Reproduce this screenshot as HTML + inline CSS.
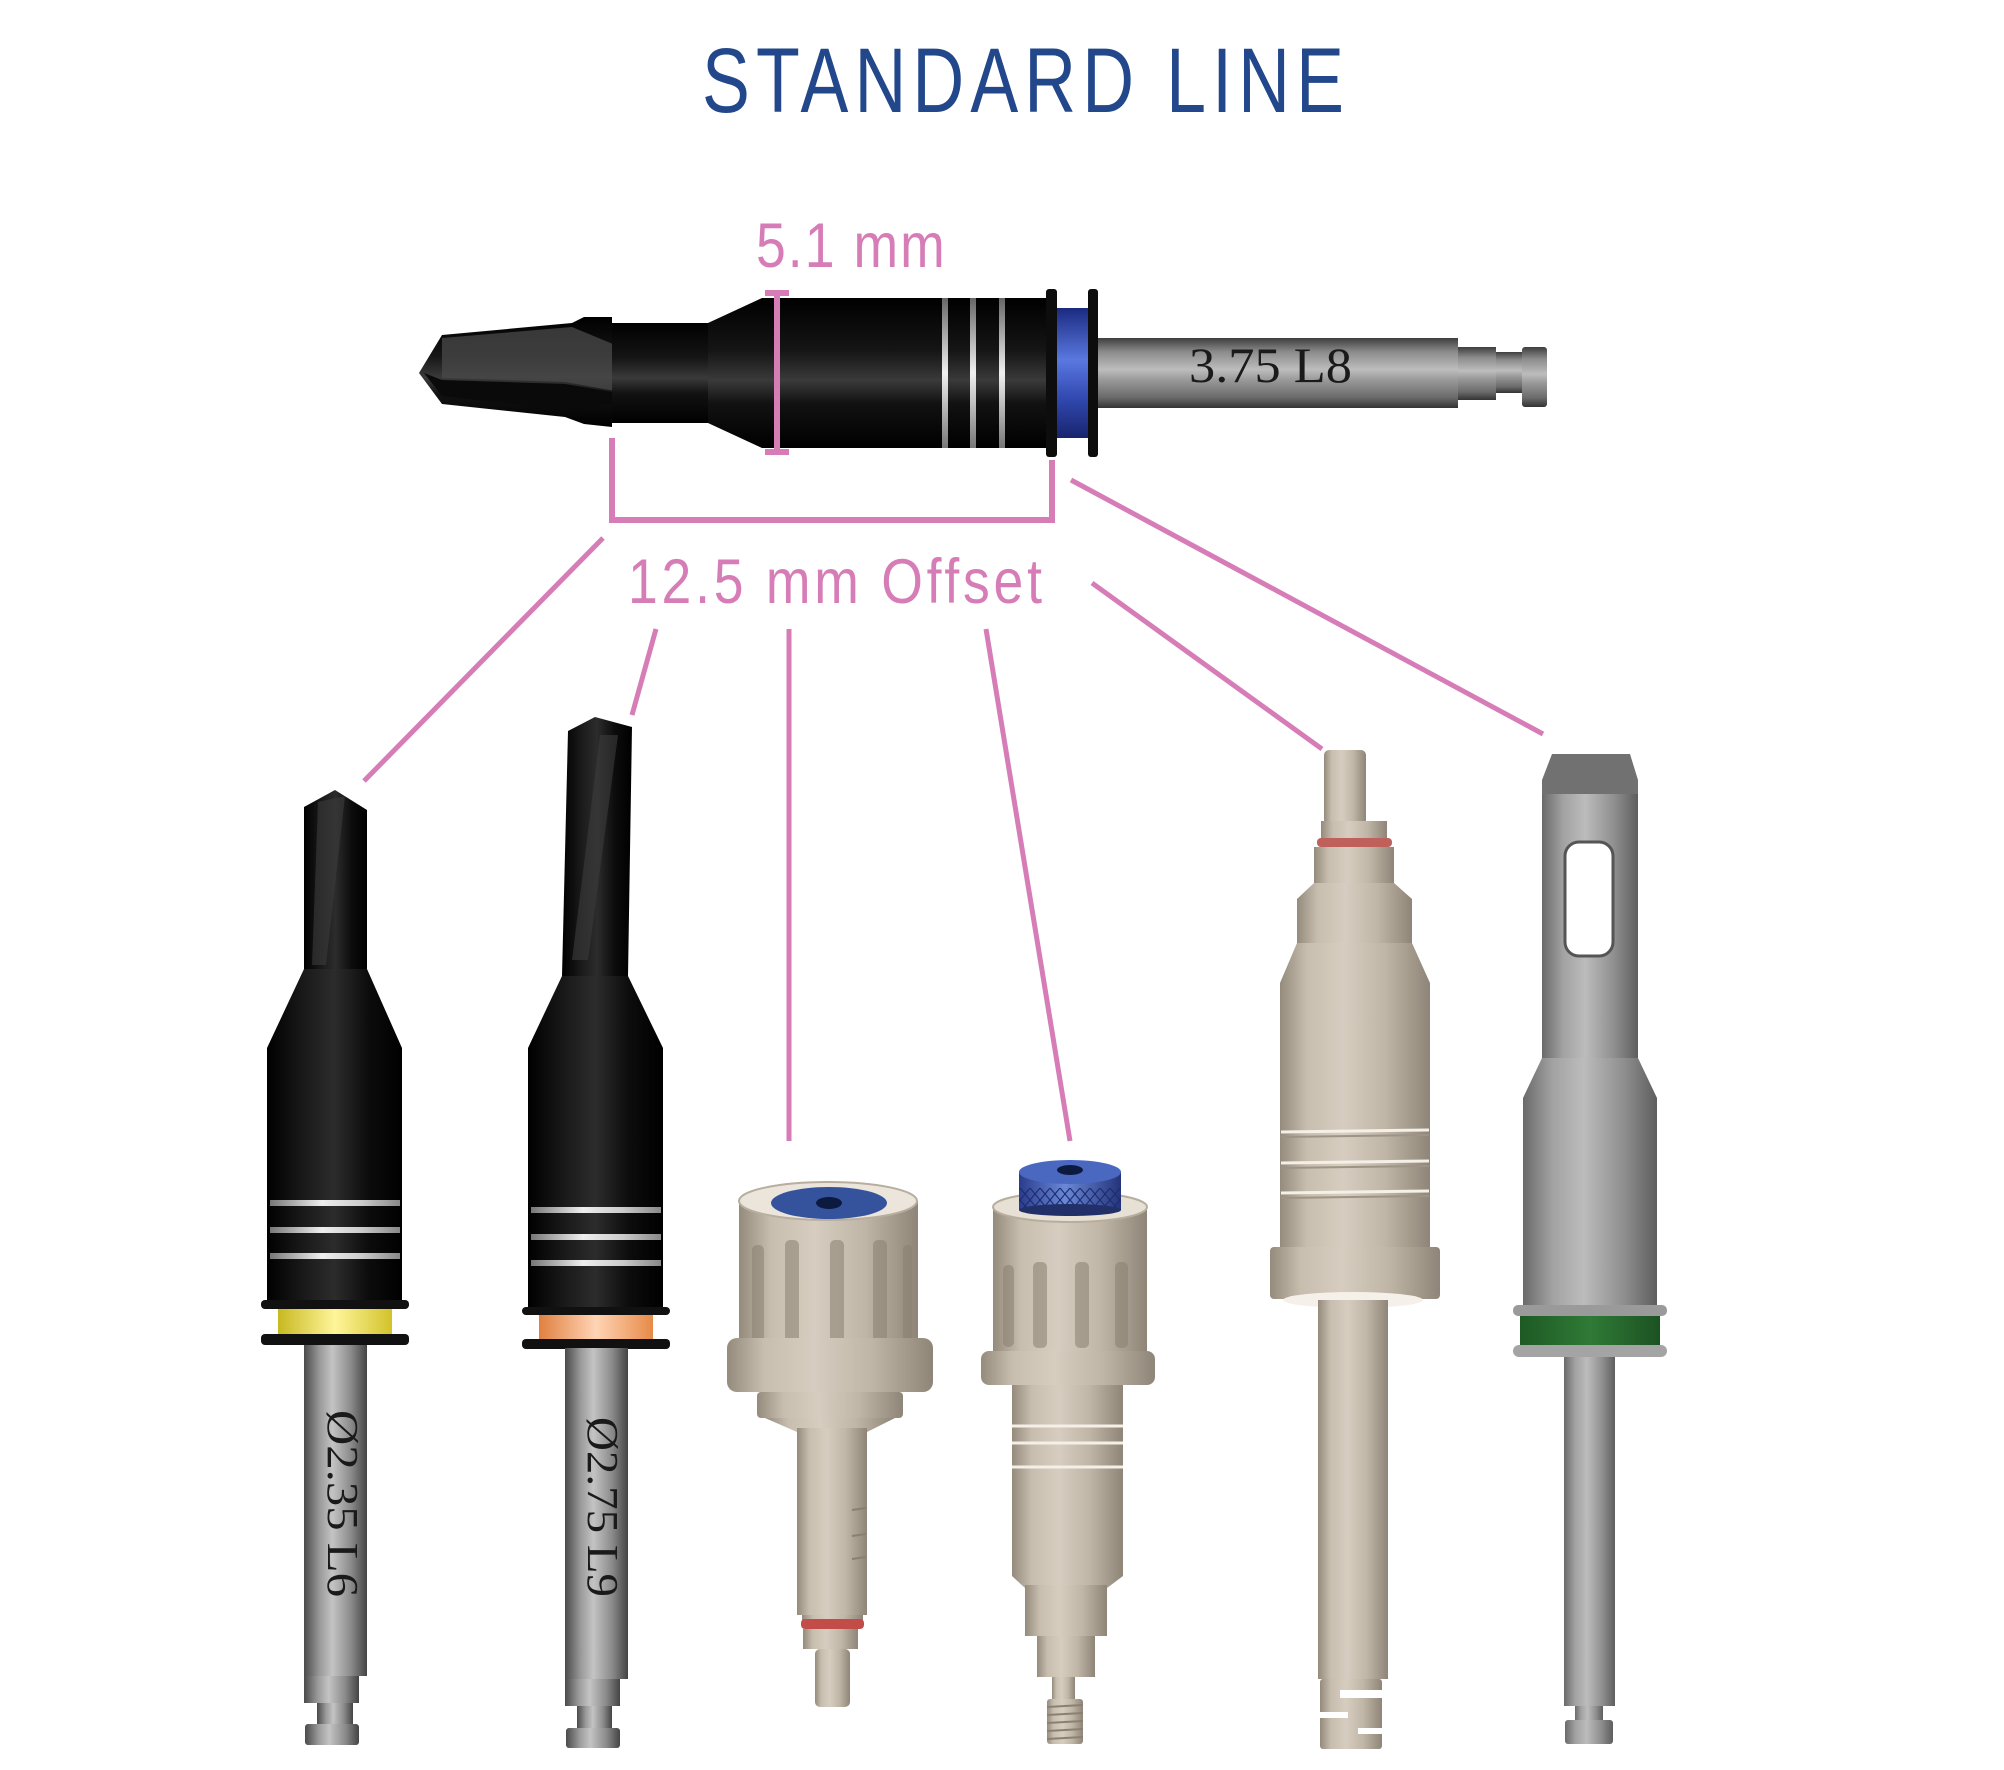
<!DOCTYPE html>
<html><head><meta charset="utf-8">
<style>
html,body{margin:0;padding:0;background:#fff;}
svg{display:block;}
</style></head><body>
<svg width="2004" height="1770" viewBox="0 0 2004 1770" xmlns="http://www.w3.org/2000/svg">
<defs>
  <linearGradient id="blkH" x1="0" y1="0" x2="1" y2="0">
    <stop offset="0" stop-color="#000"/><stop offset="0.3" stop-color="#1c1c1c"/>
    <stop offset="0.5" stop-color="#2c2c2c"/><stop offset="0.75" stop-color="#0c0c0c"/>
    <stop offset="1" stop-color="#000"/>
  </linearGradient>
  <linearGradient id="blkV" x1="0" y1="0" x2="0" y2="1">
    <stop offset="0" stop-color="#000"/><stop offset="0.35" stop-color="#151515"/>
    <stop offset="0.55" stop-color="#3a3a3a"/><stop offset="0.7" stop-color="#121212"/>
    <stop offset="1" stop-color="#000"/>
  </linearGradient>
  <linearGradient id="gryH" x1="0" y1="0" x2="1" y2="0">
    <stop offset="0" stop-color="#4a4a4a"/><stop offset="0.25" stop-color="#9a9a9a"/>
    <stop offset="0.45" stop-color="#c4c4c4"/><stop offset="0.75" stop-color="#8a8a8a"/>
    <stop offset="1" stop-color="#444"/>
  </linearGradient>
  <linearGradient id="gryV" x1="0" y1="0" x2="0" y2="1">
    <stop offset="0" stop-color="#3e3e3e"/><stop offset="0.2" stop-color="#8c8c8c"/>
    <stop offset="0.45" stop-color="#bdbdbd"/><stop offset="0.6" stop-color="#999"/>
    <stop offset="0.85" stop-color="#6a6a6a"/><stop offset="1" stop-color="#333"/>
  </linearGradient>
  <linearGradient id="beige" x1="0" y1="0" x2="1" y2="0">
    <stop offset="0" stop-color="#958b7d"/><stop offset="0.18" stop-color="#c8beaf"/>
    <stop offset="0.42" stop-color="#d6cdc0"/><stop offset="0.7" stop-color="#c0b6a7"/>
    <stop offset="1" stop-color="#8e8578"/>
  </linearGradient>
  <linearGradient id="steel" x1="0" y1="0" x2="1" y2="0">
    <stop offset="0" stop-color="#6a6a6a"/><stop offset="0.22" stop-color="#a2a2a2"/>
    <stop offset="0.45" stop-color="#bcbcbc"/><stop offset="0.75" stop-color="#8f8f8f"/>
    <stop offset="1" stop-color="#5e5e5e"/>
  </linearGradient>
  <linearGradient id="stripeH" x1="0" y1="0" x2="1" y2="0">
    <stop offset="0" stop-color="#777"/><stop offset="0.4" stop-color="#eee"/>
    <stop offset="0.7" stop-color="#ccc"/><stop offset="1" stop-color="#888"/>
  </linearGradient>
  <linearGradient id="stripeV" x1="0" y1="0" x2="0" y2="1">
    <stop offset="0" stop-color="#666"/><stop offset="0.5" stop-color="#f0f0f0"/>
    <stop offset="1" stop-color="#777"/>
  </linearGradient>
  <linearGradient id="yel" x1="0" y1="0" x2="1" y2="0">
    <stop offset="0" stop-color="#c8b820"/><stop offset="0.5" stop-color="#fff59a"/>
    <stop offset="1" stop-color="#d2c22a"/>
  </linearGradient>
  <linearGradient id="org" x1="0" y1="0" x2="1" y2="0">
    <stop offset="0" stop-color="#e08040"/><stop offset="0.5" stop-color="#ffd4b5"/>
    <stop offset="1" stop-color="#e88a48"/>
  </linearGradient>
  <linearGradient id="grn" x1="0" y1="0" x2="1" y2="0">
    <stop offset="0" stop-color="#1e5a24"/><stop offset="0.5" stop-color="#2f7a36"/>
    <stop offset="1" stop-color="#1c5222"/>
  </linearGradient>
  <linearGradient id="bluV" x1="0" y1="0" x2="0" y2="1">
    <stop offset="0" stop-color="#1b2a80"/><stop offset="0.4" stop-color="#5a78e0"/>
    <stop offset="0.7" stop-color="#3048b0"/><stop offset="1" stop-color="#18246c"/>
  </linearGradient>
  <linearGradient id="bluH" x1="0" y1="0" x2="1" y2="0">
    <stop offset="0" stop-color="#2a3c8c"/><stop offset="0.45" stop-color="#6a88d8"/>
    <stop offset="1" stop-color="#24347a"/>
  </linearGradient>
  <pattern id="knurl" width="10" height="12" patternUnits="userSpaceOnUse">
    <path d="M0 0 L10 12 M10 0 L0 12" stroke="#1d2c6e" stroke-width="1.2" fill="none"/>
  </pattern>
</defs>

<!-- Title -->
<g transform="translate(702 112) scale(0.78 1)">
<text x="0" y="0" font-family="Liberation Sans, sans-serif" font-size="92" fill="#23478b" textLength="823" lengthAdjust="spacing">STANDARD LINE</text>
</g>

<!-- Labels -->
<g transform="translate(756 267) scale(0.85 1)">
<text x="0" y="0" font-family="Liberation Sans, sans-serif" font-size="63" fill="#d67db7" textLength="222" lengthAdjust="spacing">5.1 mm</text>
</g>
<g transform="translate(628 603) scale(0.85 1)">
<text x="0" y="0" font-family="Liberation Sans, sans-serif" font-size="63" fill="#d67db7" textLength="487" lengthAdjust="spacing">12.5 mm Offset</text>
</g>

<!-- Main horizontal drill -->
<polygon points="419,373 442,335 572,323 584,317 612,317 612,427 584,424 565,417 442,404" fill="url(#blkV)"/>
<polygon points="442,338 572,327 668,367 676,402 565,382 442,378" fill="#4a4a4a" opacity="0.75"/>
<polygon points="424,373 442,380 565,384 612,392 612,404 565,410 442,396" fill="#0a0a0a"/>
<rect x="612" y="323" width="96" height="100" fill="url(#blkV)"/>
<polygon points="708,323 762,298 762,448 708,423" fill="url(#blkV)"/>
<rect x="762" y="298" width="286" height="150" fill="url(#blkV)"/>
<rect x="942" y="298" width="6" height="150" fill="url(#stripeV)"/>
<rect x="970" y="298" width="6" height="150" fill="url(#stripeV)"/>
<rect x="999" y="298" width="6" height="150" fill="url(#stripeV)"/>
<rect x="1046" y="289" width="11" height="168" rx="3" fill="#0d0d0d"/>
<rect x="1057" y="308" width="31" height="130" fill="url(#bluV)"/>
<rect x="1088" y="289" width="10" height="168" rx="3" fill="#0d0d0d"/>
<rect x="1098" y="338" width="360" height="70" fill="url(#gryV)"/>
<rect x="1458" y="347" width="38" height="53" fill="url(#gryV)"/>
<rect x="1496" y="352" width="26" height="41" fill="url(#gryV)"/>
<rect x="1522" y="347" width="25" height="60" rx="3" fill="url(#gryV)"/>
<text x="1189" y="382" font-family="Liberation Serif, serif" font-size="50" fill="#1a1a1a" textLength="163" lengthAdjust="spacingAndGlyphs">3.75 L8</text>

<!-- Pink dimension marks -->
<g stroke="#d67db7" stroke-width="6" fill="none">
  <line x1="777" y1="293" x2="777" y2="453"/>
  <line x1="765" y1="293" x2="789" y2="293"/>
  <line x1="765" y1="452" x2="789" y2="452"/>
  <polyline points="612,438 612,520 1052,520 1052,460"/>
</g>
<g stroke="#d67db7" stroke-width="5" fill="none">
  <line x1="603" y1="538" x2="364" y2="781"/>
  <line x1="656" y1="629" x2="632" y2="715"/>
  <line x1="789" y1="629" x2="789" y2="1141"/>
  <line x1="986" y1="629" x2="1070" y2="1141"/>
  <line x1="1092" y1="583" x2="1322" y2="749"/>
  <line x1="1071" y1="480" x2="1543" y2="734"/>
</g>

<!-- Tool 1 -->
<g>
  <polygon points="304,807 335,790 367,810 367,969 304,969" fill="url(#blkH)"/>
  <polygon points="318,802 345,796 326,965 312,965" fill="#3c3c3c" opacity="0.6"/>
  <polygon points="304,969 367,969 402,1048 267,1048" fill="url(#blkH)"/>
  <rect x="267" y="1048" width="135" height="252" fill="url(#blkH)"/>
  <rect x="270" y="1200" width="130" height="6" fill="url(#stripeH)"/>
  <rect x="270" y="1227" width="130" height="6" fill="url(#stripeH)"/>
  <rect x="270" y="1253" width="130" height="6" fill="url(#stripeH)"/>
  <rect x="261" y="1300" width="148" height="9" rx="4" fill="#111"/>
  <rect x="278" y="1309" width="114" height="25" fill="url(#yel)"/>
  <rect x="261" y="1334" width="148" height="11" rx="4" fill="#111"/>
  <rect x="304" y="1345" width="63" height="331" fill="url(#gryH)"/>
  <rect x="304" y="1676" width="55" height="27" fill="url(#gryH)"/>
  <rect x="317" y="1703" width="36" height="21" fill="url(#gryH)"/>
  <rect x="305" y="1724" width="54" height="21" rx="3" fill="url(#gryH)"/>
  <text x="328" y="1410" transform="rotate(90 328 1410)" font-family="Liberation Serif, serif" font-size="44" fill="#1a1a1a" textLength="187" lengthAdjust="spacingAndGlyphs">Ø2.35 L6</text>
</g>

<!-- Tool 2 -->
<g>
  <polygon points="568,731 595,717 632,727 628,976 562,976" fill="url(#blkH)"/>
  <polygon points="600,735 618,735 588,960 572,960" fill="#3c3c3c" opacity="0.6"/>
  <polygon points="562,976 628,976 663,1048 528,1048" fill="url(#blkH)"/>
  <rect x="528" y="1048" width="135" height="259" fill="url(#blkH)"/>
  <rect x="531" y="1207" width="130" height="6" fill="url(#stripeH)"/>
  <rect x="531" y="1234" width="130" height="6" fill="url(#stripeH)"/>
  <rect x="531" y="1260" width="130" height="6" fill="url(#stripeH)"/>
  <rect x="522" y="1307" width="148" height="8" rx="4" fill="#111"/>
  <rect x="539" y="1315" width="114" height="24" fill="url(#org)"/>
  <rect x="522" y="1339" width="148" height="10" rx="4" fill="#111"/>
  <rect x="565" y="1348" width="63" height="331" fill="url(#gryH)"/>
  <rect x="565" y="1679" width="55" height="27" fill="url(#gryH)"/>
  <rect x="577" y="1706" width="35" height="22" fill="url(#gryH)"/>
  <rect x="566" y="1728" width="54" height="20" rx="3" fill="url(#gryH)"/>
  <text x="588" y="1417" transform="rotate(90 588 1417)" font-family="Liberation Serif, serif" font-size="44" fill="#1a1a1a" textLength="180" lengthAdjust="spacingAndGlyphs">Ø2.75 L9</text>
</g>

<!-- Tool 3 -->
<g>
  <rect x="739" y="1201" width="179" height="152" fill="url(#beige)"/>
  <g fill="#8a8071" opacity="0.55">
    <rect x="752" y="1245" width="12" height="100" rx="5"/>
    <rect x="785" y="1240" width="14" height="105" rx="5"/>
    <rect x="830" y="1240" width="14" height="105" rx="5"/>
    <rect x="873" y="1240" width="14" height="105" rx="5"/>
    <rect x="903" y="1245" width="9" height="100" rx="4"/>
  </g>
  <ellipse cx="828" cy="1201" rx="89" ry="19" fill="#ebe5db" stroke="#b8ae9f" stroke-width="2"/>
  <ellipse cx="829" cy="1203" rx="58" ry="16" fill="#34539c"/>
  <ellipse cx="829" cy="1203" rx="13" ry="6" fill="#0d1a40"/>
  <rect x="727" y="1338" width="206" height="54" rx="10" fill="url(#beige)"/>
  <rect x="757" y="1392" width="146" height="26" rx="4" fill="url(#beige)"/>
  <polygon points="765,1418 895,1418 867,1432 797,1432" fill="url(#beige)"/>
  <rect x="797" y="1428" width="70" height="187" fill="url(#beige)"/>
  <g stroke="#8a8071" stroke-width="2">
    <line x1="852" y1="1510" x2="866" y2="1508"/>
    <line x1="852" y1="1536" x2="866" y2="1534"/>
    <line x1="852" y1="1559" x2="866" y2="1557"/>
  </g>
  <rect x="802" y="1615" width="61" height="6" fill="url(#beige)"/>
  <rect x="801" y="1619" width="63" height="10" rx="4" fill="#c24c48"/>
  <rect x="803" y="1629" width="55" height="20" fill="url(#beige)"/>
  <rect x="815" y="1649" width="35" height="58" rx="5" fill="url(#beige)"/>
</g>

<!-- Tool 4 -->
<g>
  <rect x="993" y="1207" width="154" height="146" fill="url(#beige)"/>
  <g fill="#8a8071" opacity="0.55">
    <rect x="1003" y="1265" width="11" height="82" rx="5"/>
    <rect x="1033" y="1262" width="14" height="86" rx="5"/>
    <rect x="1075" y="1262" width="14" height="86" rx="5"/>
    <rect x="1115" y="1262" width="13" height="86" rx="5"/>
  </g>
  <ellipse cx="1070" cy="1207" rx="77" ry="15" fill="#e6e0d5" stroke="#b8ae9f" stroke-width="2"/>
  <rect x="1019" y="1172" width="102" height="38" fill="url(#bluH)"/>
  <rect x="1019" y="1188" width="102" height="22" fill="url(#knurl)"/>
  <ellipse cx="1070" cy="1210" rx="51" ry="6" fill="#22306a"/>
  <ellipse cx="1070" cy="1172" rx="51" ry="12" fill="#4a68c0"/>
  <ellipse cx="1070" cy="1170" rx="13" ry="5" fill="#0d1a40"/>
  <rect x="981" y="1351" width="174" height="34" rx="8" fill="url(#beige)"/>
  <rect x="1012" y="1385" width="111" height="191" fill="url(#beige)"/>
  <g stroke="#f4efe7" stroke-width="3">
    <line x1="1012" y1="1426" x2="1123" y2="1426"/>
    <line x1="1012" y1="1443" x2="1123" y2="1443"/>
    <line x1="1012" y1="1467" x2="1123" y2="1467"/>
  </g>
  <polygon points="1012,1576 1123,1576 1107,1588 1025,1588" fill="url(#beige)"/>
  <rect x="1025" y="1585" width="82" height="51" fill="url(#beige)"/>
  <rect x="1037" y="1636" width="58" height="41" fill="url(#beige)"/>
  <rect x="1052" y="1677" width="23" height="22" fill="url(#beige)"/>
  <rect x="1047" y="1699" width="36" height="45" rx="3" fill="url(#beige)"/>
  <g stroke="#8a8071" stroke-width="2">
    <line x1="1047" y1="1707" x2="1083" y2="1705"/>
    <line x1="1047" y1="1715" x2="1083" y2="1713"/>
    <line x1="1047" y1="1723" x2="1083" y2="1721"/>
    <line x1="1047" y1="1731" x2="1083" y2="1729"/>
    <line x1="1047" y1="1739" x2="1083" y2="1737"/>
  </g>
</g>

<!-- Tool 5 -->
<g>
  <rect x="1324" y="750" width="42" height="75" rx="5" fill="url(#beige)"/>
  <rect x="1321" y="821" width="66" height="20" fill="url(#beige)"/>
  <rect x="1317" y="838" width="75" height="9" rx="4" fill="#c0605a"/>
  <rect x="1314" y="847" width="80" height="36" fill="url(#beige)"/>
  <polygon points="1314,883 1394,883 1412,899 1297,899" fill="url(#beige)"/>
  <rect x="1297" y="899" width="115" height="44" fill="url(#beige)"/>
  <polygon points="1297,943 1412,943 1430,983 1280,983" fill="url(#beige)"/>
  <rect x="1280" y="983" width="150" height="264" fill="url(#beige)"/>
  <g stroke="#f4efe7" stroke-width="3">
    <line x1="1281" y1="1132" x2="1429" y2="1130"/>
    <line x1="1281" y1="1163" x2="1429" y2="1161"/>
    <line x1="1281" y1="1193" x2="1429" y2="1191"/>
  </g>
  <g stroke="#9e9486" stroke-width="2">
    <line x1="1281" y1="1137" x2="1429" y2="1135"/>
    <line x1="1281" y1="1168" x2="1429" y2="1166"/>
    <line x1="1281" y1="1198" x2="1429" y2="1196"/>
  </g>
  <rect x="1270" y="1247" width="170" height="52" rx="4" fill="url(#beige)"/>
  <ellipse cx="1353" cy="1300" rx="70" ry="8" fill="#f5f1ea"/>
  <rect x="1318" y="1300" width="70" height="379" fill="url(#beige)"/>
  <rect x="1320" y="1679" width="62" height="70" rx="3" fill="url(#beige)"/>
  <g fill="#fff">
    <rect x="1340" y="1690" width="45" height="8"/>
    <rect x="1318" y="1712" width="30" height="6"/>
    <rect x="1358" y="1728" width="28" height="6"/>
  </g>
</g>

<!-- Tool 6 -->
<g>
  <polygon points="1552,754 1630,754 1638,780 1638,794 1542,794 1542,780" fill="#717171"/>
  <rect x="1542" y="794" width="96" height="264" fill="url(#steel)"/>
  <rect x="1565" y="842" width="48" height="114" rx="14" fill="#fff" stroke="#555" stroke-width="3"/>
  <polygon points="1542,1058 1638,1058 1657,1098 1523,1098" fill="url(#steel)"/>
  <rect x="1523" y="1098" width="134" height="213" fill="url(#steel)"/>
  <rect x="1513" y="1305" width="154" height="11" rx="5" fill="#9a9a9a"/>
  <rect x="1520" y="1316" width="140" height="34" fill="url(#grn)"/>
  <rect x="1513" y="1345" width="154" height="12" rx="6" fill="#a4a4a4"/>
  <rect x="1564" y="1357" width="51" height="349" fill="url(#steel)"/>
  <rect x="1575" y="1706" width="28" height="14" fill="url(#steel)"/>
  <rect x="1565" y="1720" width="48" height="24" rx="3" fill="url(#steel)"/>
</g>
</svg>
</body></html>
